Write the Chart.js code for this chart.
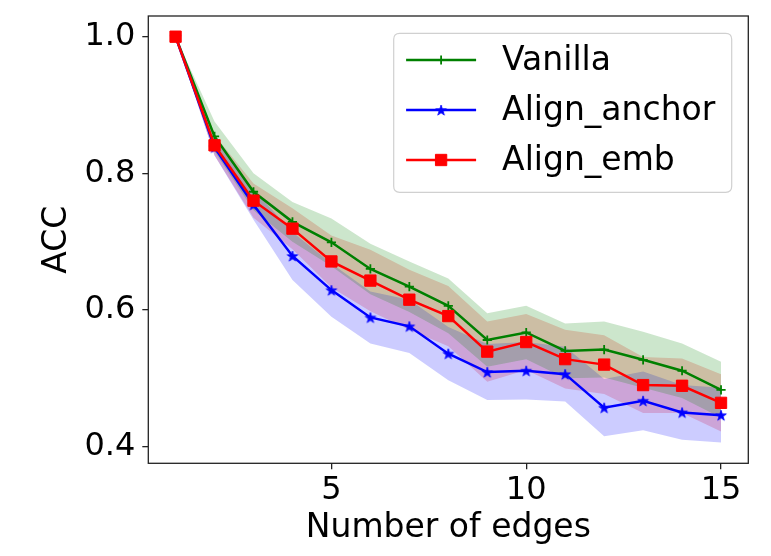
<!DOCTYPE html>
<html>
<head>
<meta charset="utf-8">
<script src="https://cdn.jsdelivr.net/npm/chart.js"></script>
<style>
html,body{margin:0;padding:0;background:#ffffff;}
#wrap{width:771px;height:556px;}
</style>
</head>
<body>
<div id="wrap"><canvas id="c" width="771" height="556"></canvas></div>
<script>
// ---------------- data ----------------
const edges = [1, 2, 3, 4, 5, 6, 7, 8, 9, 10, 11, 12, 13, 14, 15];
const seriesLabels = ['Vanilla', 'Align_anchor', 'Align_emb'];

const vanilla      = [1.000, 0.854, 0.773, 0.729, 0.699, 0.660, 0.634, 0.606, 0.556, 0.567, 0.540, 0.542, 0.527, 0.511, 0.483];
const vanillaUpper = [1.000, 0.876, 0.800, 0.758, 0.734, 0.697, 0.671, 0.646, 0.595, 0.606, 0.580, 0.583, 0.568, 0.551, 0.524];
const vanillaLower = [1.000, 0.832, 0.746, 0.700, 0.664, 0.623, 0.597, 0.566, 0.517, 0.528, 0.500, 0.501, 0.486, 0.471, 0.442];

const anchor      = [1.000, 0.838, 0.754, 0.679, 0.629, 0.589, 0.576, 0.536, 0.509, 0.511, 0.506, 0.457, 0.467, 0.450, 0.446];
const anchorUpper = [1.000, 0.850, 0.776, 0.714, 0.668, 0.627, 0.615, 0.575, 0.550, 0.553, 0.546, 0.499, 0.510, 0.490, 0.486];
const anchorLower = [1.000, 0.826, 0.732, 0.644, 0.590, 0.551, 0.537, 0.497, 0.468, 0.469, 0.466, 0.415, 0.424, 0.410, 0.406];

const emb      = [1.000, 0.841, 0.760, 0.719, 0.671, 0.643, 0.615, 0.591, 0.539, 0.553, 0.528, 0.520, 0.490, 0.489, 0.464];
const embUpper = [1.000, 0.856, 0.785, 0.749, 0.709, 0.688, 0.659, 0.635, 0.583, 0.594, 0.571, 0.563, 0.531, 0.529, 0.506];
const embLower = [1.000, 0.826, 0.735, 0.689, 0.633, 0.598, 0.571, 0.547, 0.495, 0.512, 0.485, 0.477, 0.449, 0.449, 0.422];

const xTicks = [5, 10, 15];
const yTicks = [0.4, 0.6, 0.8, 1.0];

// ---------------- helpers ----------------
const pts = (ys) => edges.map((x, i) => ({x: x, y: ys[i]}));

function makeStar(color, R) {
  const s = Math.ceil(2 * R + 4);
  const c = document.createElement('canvas');
  c.width = s; c.height = s;
  const g = c.getContext('2d');
  g.fillStyle = color; g.strokeStyle = color; g.lineWidth = 0.8; g.lineJoin = 'miter';
  g.beginPath();
  for (let i = 0; i < 10; i++) {
    const r = (i % 2) ? R * 0.382 : R;
    const a = -Math.PI / 2 + i * Math.PI / 5;
    g.lineTo(s / 2 + r * Math.cos(a), s / 2 + 0.6 + r * Math.sin(a));
  }
  g.closePath(); g.fill(); g.stroke();
  return c;
}
const starImg = makeStar('#0000ff', 5.6);

const FONT = '"DejaVu Sans", "Liberation Sans", sans-serif';
Chart.defaults.font.family = FONT;
Chart.defaults.color = '#000000';

function band(ys, color, fillTo) {
  return {
    label: '', data: pts(ys), borderWidth: 0, borderColor: 'rgba(0,0,0,0)',
    backgroundColor: color, pointRadius: 0, pointHoverRadius: 0, tension: 0,
    fill: fillTo, isBand: true, order: 20
  };
}
function line(label, ys, color, pointStyle, radius, bw, order) {
  return {
    label: label, data: pts(ys), borderColor: color, backgroundColor: color,
    borderWidth: 2.5, tension: 0, fill: false,
    pointStyle: pointStyle, pointRadius: radius, pointHoverRadius: radius,
    pointBorderColor: color, pointBackgroundColor: color, pointBorderWidth: bw,
    order: order
  };
}

// ---------------- plugins ----------------
const frame = {
  id: 'frame',
  afterDatasetsDraw(chart) {
    const a = chart.chartArea, ctx = chart.ctx;
    ctx.save();
    ctx.strokeStyle = '#222222';
    ctx.lineWidth = 1.3;
    ctx.strokeRect(a.left, a.top, a.right - a.left, a.bottom - a.top);
    ctx.restore();
  }
};

function drawMarker(ctx, ds, x, y) {
  const st = ds.pointStyle, r = ds.pointRadius;
  ctx.save();
  ctx.fillStyle = ds.pointBackgroundColor;
  ctx.strokeStyle = ds.pointBorderColor;
  ctx.lineWidth = ds.pointBorderWidth;
  if (st && typeof st === 'object') {
    ctx.drawImage(st, x - st.width / 2, y - st.height / 2, st.width, st.height);
  } else if (st === 'cross') {
    ctx.beginPath();
    ctx.moveTo(x - r, y); ctx.lineTo(x + r, y);
    ctx.moveTo(x, y - r); ctx.lineTo(x, y + r);
    ctx.stroke();
  } else if (st === 'rect') {
    const s = Math.SQRT1_2 * r;
    ctx.beginPath();
    ctx.rect(x - s, y - s, 2 * s, 2 * s);
    ctx.fill();
    if (ds.pointBorderWidth > 0) ctx.stroke();
  }
  ctx.restore();
}

const boxLegend = {
  id: 'boxLegend',
  afterDraw(chart) {
    const ctx = chart.ctx, a = chart.chartArea;
    const w = 338, h = 159;
    const x0 = a.right - 16.6 - w, y0 = a.top + 17.3;
    ctx.save();
    const rr = 6;
    ctx.beginPath();
    ctx.moveTo(x0 + rr, y0);
    ctx.lineTo(x0 + w - rr, y0);
    ctx.quadraticCurveTo(x0 + w, y0, x0 + w, y0 + rr);
    ctx.lineTo(x0 + w, y0 + h - rr);
    ctx.quadraticCurveTo(x0 + w, y0 + h, x0 + w - rr, y0 + h);
    ctx.lineTo(x0 + rr, y0 + h);
    ctx.quadraticCurveTo(x0, y0 + h, x0, y0 + h - rr);
    ctx.lineTo(x0, y0 + rr);
    ctx.quadraticCurveTo(x0, y0, x0 + rr, y0);
    ctx.closePath();
    ctx.fillStyle = 'rgba(255,255,255,0.8)';
    ctx.fill();
    ctx.strokeStyle = '#d0d0d0';
    ctx.lineWidth = 1.2;
    ctx.stroke();

    const lines = chart.data.datasets.filter(d => !d.isBand);
    lines.forEach((ds, i) => {
      const cy = y0 + 26.7 + i * 50;
      const lx1 = x0 + 12.4, lx2 = x0 + 82.4;
      ctx.strokeStyle = ds.borderColor;
      ctx.lineWidth = ds.borderWidth;
      ctx.beginPath();
      ctx.moveTo(lx1, cy); ctx.lineTo(lx2, cy);
      ctx.stroke();
      drawMarker(ctx, ds, (lx1 + lx2) / 2, cy);
      ctx.fillStyle = '#000000';
      ctx.font = '33px ' + FONT;
      ctx.textBaseline = 'middle';
      ctx.textAlign = 'left';
      ctx.fillText(ds.label, x0 + 108.4, cy + 1);
    });
    ctx.restore();
  }
};

// ---------------- chart ----------------
const datasets = [
  band(vanillaLower, 'rgba(0,128,0,0.2)', false),      // 0
  band(vanillaUpper, 'rgba(0,128,0,0.2)', 0),          // 1
  band(anchorLower, 'rgba(0,0,255,0.2)', false),       // 2
  band(anchorUpper, 'rgba(0,0,255,0.2)', 2),           // 3
  band(embLower, 'rgba(255,0,0,0.2)', false),          // 4
  band(embUpper, 'rgba(255,0,0,0.2)', 4),              // 5
  line(seriesLabels[0], vanilla, '#008000', 'cross', 4.6, 1.8, 3),
  line(seriesLabels[1], anchor, '#0000ff', starImg, 5, 1, 2),
  line(seriesLabels[2], emb, '#ff0000', 'rect', 8, 1, 1)
];

new Chart(document.getElementById('c'), {
  type: 'line',
  data: {datasets: datasets},
  options: {
    responsive: false,
    animation: false,
    events: [],
    layout: {padding: {top: 16, right: 22.7, left: 0, bottom: 0}},
    plugins: {
      legend: {display: false},
      tooltip: {enabled: false},
      filler: {drawTime: 'beforeDatasetsDraw', propagate: false}
    },
    scales: {
      x: {
        type: 'linear', min: 0.3, max: 15.7,
        afterBuildTicks: (s) => { s.ticks = xTicks.map(v => ({value: v})); },
        afterFit: (s) => { s.height = 92.7; s.paddingLeft = 0; s.paddingRight = 0; },
        ticks: {font: {size: 32}, color: '#000', padding: 2, maxRotation: 0, callback: (v) => String(v)},
        grid: {display: true, drawOnChartArea: false, drawTicks: true, tickLength: 6, color: '#222', lineWidth: 1.3},
        border: {display: false},
        title: {display: true, text: 'Number of edges', font: {size: 33, lineHeight: 1.2}, color: '#000', padding: {top: 0, bottom: 8}}
      },
      y: {
        type: 'linear', min: 0.3755, max: 1.0303,
        afterBuildTicks: (s) => { s.ticks = yTicks.map(v => ({value: v})); },
        afterFit: (s) => { s.width = 148.3; s.paddingTop = 0; s.paddingBottom = 0; },
        ticks: {font: {size: 32}, color: '#000', padding: 7, callback: (v) => Number(v).toFixed(1)},
        grid: {display: true, drawOnChartArea: false, drawTicks: true, tickLength: 6, color: '#222', lineWidth: 1.3},
        border: {display: false},
        title: {display: true, text: 'ACC', font: {size: 33, lineHeight: 1.2}, color: '#000', padding: {top: 38, bottom: 0}}
      }
    }
  },
  plugins: [frame, boxLegend]
});
</script>
</body>
</html>
